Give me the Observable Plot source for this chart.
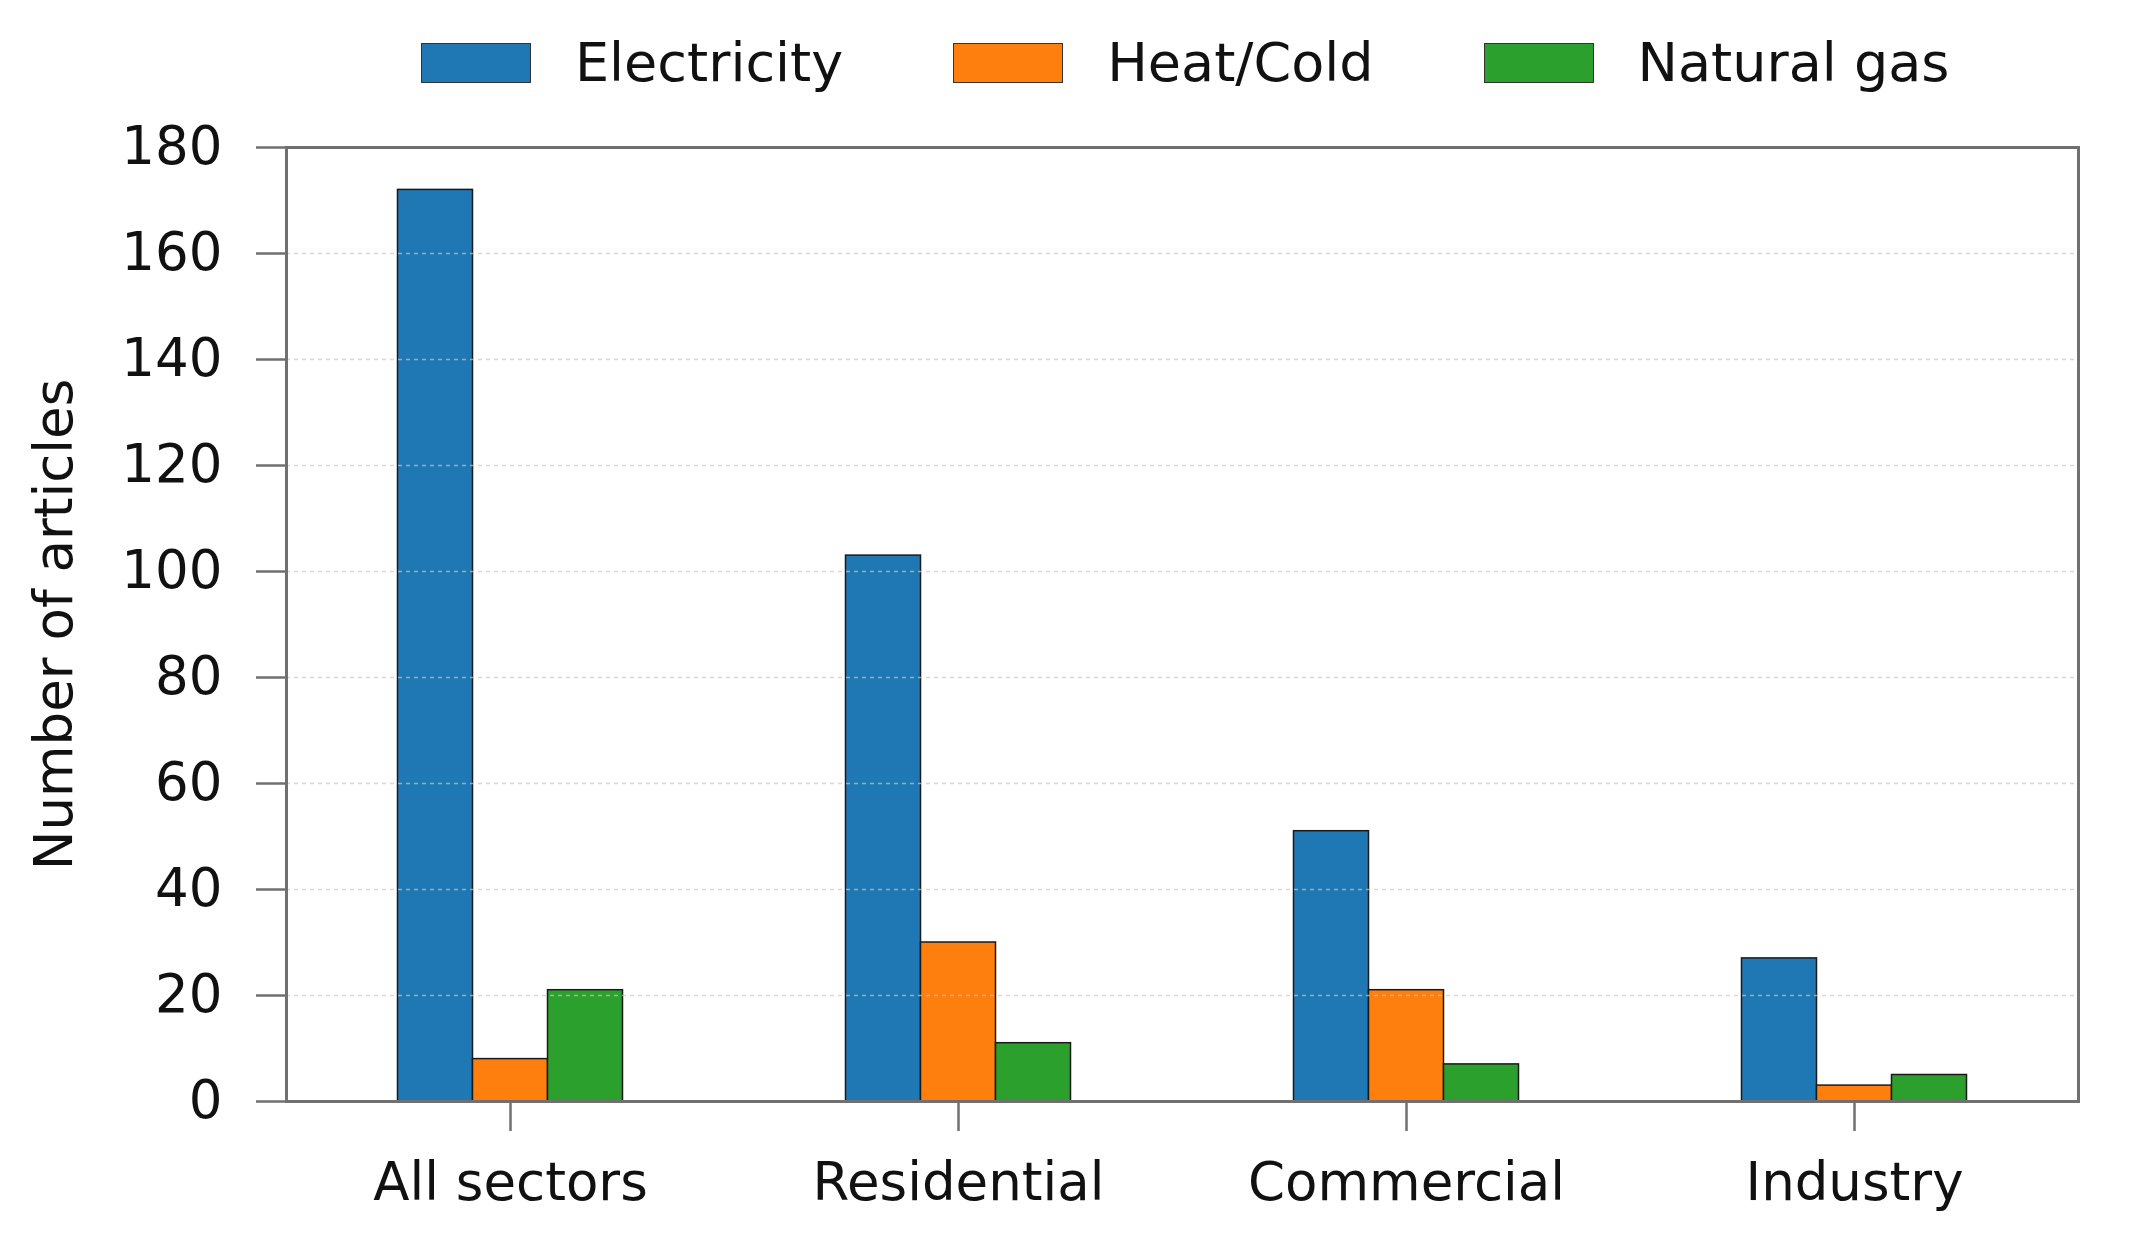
<!DOCTYPE html>
<html>
<head>
<meta charset="utf-8">
<script src="https://cdn.jsdelivr.net/npm/d3@7"></script>
<script src="https://cdn.jsdelivr.net/npm/@observablehq/plot@0.6"></script>
<style>
  html, body { margin: 0; padding: 0; background: #fff; }
  body { width: 2136px; height: 1244px; overflow: hidden; font-family: "DejaVu Sans", sans-serif; }
  #legend { height: 100px; position: relative; display: flex; align-items: flex-start; padding-left: 421px; box-sizing: border-box; padding-top: 43px; }
  .item { display: flex; align-items: flex-start; margin-right: 110px; }
  .sw { width: 108px; height: 38px; border: 1.5px solid #333; box-sizing: content-box; margin-right: 44px; }
  .lab { font-size: 54px; line-height: 40px; color: #111; white-space: nowrap; }
  #chart svg { display: block; }
</style>
</head>
<body>
<div id="legend"></div>
<div id="chart"></div>
<script>
const sectors = ["All sectors", "Residential", "Commercial", "Industry"];
const series = ["Electricity", "Heat/Cold", "Natural gas"];
const colors = ["#1f77b4", "#ff7f0e", "#2ca02c"];
const electricity = [172, 103, 51, 27];
const heatCold = [8, 30, 21, 3];
const naturalGas = [21, 11, 7, 5];
const yTicks = [0, 20, 40, 60, 80, 100, 120, 140, 160, 180];
const gridTicks = [20, 40, 60, 80, 100, 120, 140, 160];
const yLabel = "Number of articles";

const values = [electricity, heatCold, naturalGas];
const data = series.flatMap((s, i) => sectors.map((c, j) => ({sector: c, series: s, value: values[i][j]})));

// legend
const legend = document.getElementById("legend");
series.forEach((s, i) => {
  const item = document.createElement("div");
  item.className = "item";
  const sw = document.createElement("div");
  sw.className = "sw";
  sw.style.background = colors[i];
  const lab = document.createElement("div");
  lab.className = "lab";
  lab.textContent = s;
  item.appendChild(sw);
  item.appendChild(lab);
  legend.appendChild(item);
});

const barW = 75;
const step = (2136 - 286 - 58) / sectors.length;
const inset = (step - barW) / 2;
const offsets = [-barW, 0, barW];

const bars = series.map((s, i) => Plot.barY(data.filter(d => d.series === s), {
  x: "sector", y: "value", fill: colors[i], stroke: "#1a1a1a", strokeWidth: 1.5,
  insetLeft: inset, insetRight: inset, dx: offsets[i]
}));

const chart = Plot.plot({
  width: 2136,
  height: 1144,
  marginTop: 47,
  marginBottom: 143,
  marginLeft: 286,
  marginRight: 58,
  style: {fontFamily: "DejaVu Sans", fontSize: "53px", color: "#111", background: "#fff"},
  x: {domain: sectors, paddingInner: 0, paddingOuter: 0, label: null},
  y: {domain: [0, 180], label: null},
  marks: [
    ...bars,
    Plot.gridY(gridTicks, {stroke: "#c8c8c8", strokeOpacity: 0.7, strokeWidth: 1.5, strokeDasharray: "4,4"}),
    Plot.axisY(yTicks, {tickSize: 30, tickPadding: 34, stroke: "#707070", strokeWidth: 2.5, fill: "#111", fontSize: 53, label: null}),
    Plot.axisX({tickSize: 30, tickPadding: 31, stroke: "#707070", strokeWidth: 2.5, fill: "#111", fontSize: 53, label: null}),
    Plot.text([yLabel], {frameAnchor: "left", textAnchor: "middle", rotate: -90, dx: -231, fontSize: 53, fill: "#111"}),
    Plot.frame({stroke: "#707070", strokeWidth: 3})
  ]
});
document.getElementById("chart").appendChild(chart);
</script>
</body>
</html>
